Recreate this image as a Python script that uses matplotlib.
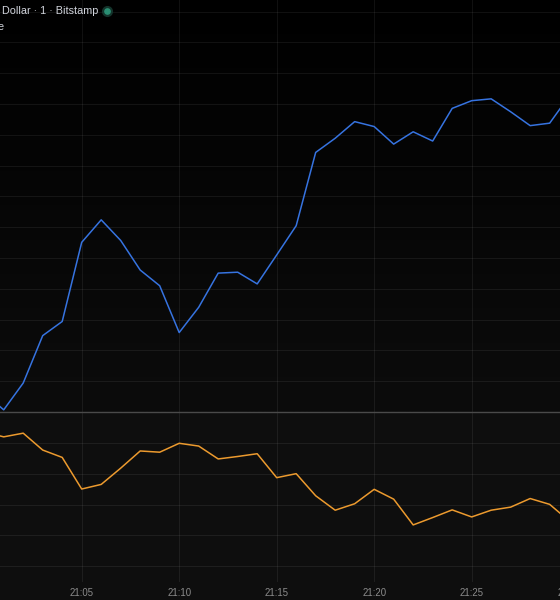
import matplotlib
matplotlib.use('Agg')
import matplotlib.pyplot as plt
import numpy as np
from matplotlib.colors import LinearSegmentedColormap
from matplotlib.lines import Line2D

# minutes after 21:00, one close per minute
minutes = list(range(0, 31))
price = [41996.2, 41990.7, 41999.4, 42014.8, 42019.4, 42045.1, 42052.4, 42045.7,
         42036.1, 42031.0, 42015.8, 42024.0, 42035.1, 42035.4, 42031.6, 42041.0,
         42050.5, 42074.3, 42078.9, 42084.3, 42082.7, 42077.0, 42081.0, 42078.0,
         42088.6, 42091.1, 42091.7, 42087.5, 42083.0, 42083.8, 42092.6]
indicator = [73.7, 72.1, 73.3, 67.8, 65.4, 55.1, 56.6, 61.9, 67.5, 67.1, 70.0,
             69.1, 64.9, 65.7, 66.6, 58.8, 60.1, 52.9, 48.2, 50.3, 55.0, 51.8,
             43.4, 45.8, 48.3, 46.0, 48.2, 49.2, 52.0, 50.1, 44.7]
tick_minutes = [5, 10, 15, 20, 25, 30]
tick_labels = ['21:05', '21:10', '21:15', '21:20', '21:25', '21:30']
price_grid = list(range(42000, 42121, 10))
indicator_grid = [30, 40, 50, 60, 70]

W, H = 560, 600
fig = plt.figure(figsize=(W / 100, H / 100), dpi=100, facecolor='#0e0e0e')

xlim = (0.81, 29.53)
grid_kw = dict(color='#ffffff', alpha=0.065, linewidth=0.75)

# price pane
ax = fig.add_axes([0, 1 - 412.3 / H, 1, 412.3 / H], facecolor='#060606')
ylim_p = (41989.9, 42123.8)
bg = LinearSegmentedColormap.from_list('bg', ['#000000', '#0c0c0c'])
ax.imshow(np.linspace(0, 1, 256).reshape(-1, 1), aspect='auto', cmap=bg,
          extent=[xlim[0], xlim[1], ylim_p[0], ylim_p[1]], origin='upper', zorder=0)
ax.plot(minutes, price, color='#3673e0', linewidth=1.1, zorder=3)
ax.set_xticks(tick_minutes)
ax.set_yticks(price_grid)
ax.set_xlim(xlim)
ax.set_ylim(ylim_p)
ax.grid(True, **grid_kw)
ax.tick_params(length=0, labelbottom=False, labelleft=False)
for s in ax.spines.values():
    s.set_visible(False)

# indicator pane
ax2 = fig.add_axes([0, 18 / H, 1, (582 - 412.3) / H], facecolor='#0e0e0e')
ax2.plot(minutes, indicator, color='#ec9a2e', linewidth=1.1, zorder=3)
ax2.set_xticks(tick_minutes)
ax2.set_yticks(indicator_grid)
ax2.set_xlim(xlim)
ax2.set_ylim(24.8, 80.1)
ax2.grid(True, **grid_kw)
ax2.tick_params(length=0, labelleft=False, labelbottom=False)
for s in ax2.spines.values():
    s.set_visible(False)

# time labels drawn as text so the one past the right edge still shows its clipped part
for m, lab in zip(tick_minutes, tick_labels):
    ax2.text(m, -11 / 169.7, lab, transform=ax2.get_xaxis_transform(), ha='center',
             va='center', fontsize=6.9, color='#8c8c8c', family='Liberation Sans',
             clip_on=False)

# pane divider
fig.add_artist(Line2D([0, 1], [1 - 412.3 / H] * 2, color='#4a4a4a', linewidth=1.0))

# legend header
fig.text(2 / W, 1 - 11 / H, 'Dollar · 1 · Bitstamp', color='#d1d4dc', fontsize=7.8,
         family='Liberation Sans', va='center', ha='left')
fig.text(3.5 / W, 1 - 27 / H, 'e', color='#d1d4dc', fontsize=7.8,
         family='Liberation Sans', va='center', ha='right')
fig.add_artist(Line2D([107.3 / W], [1 - 10.7 / H], marker='o', markersize=7,
                      color='#14332b', linestyle='none'))
fig.add_artist(Line2D([107.3 / W], [1 - 10.7 / H], marker='o', markersize=3.8,
                      color='#2a8f73', linestyle='none'))

fig.savefig('out.png', dpi=100, facecolor=fig.get_facecolor())
